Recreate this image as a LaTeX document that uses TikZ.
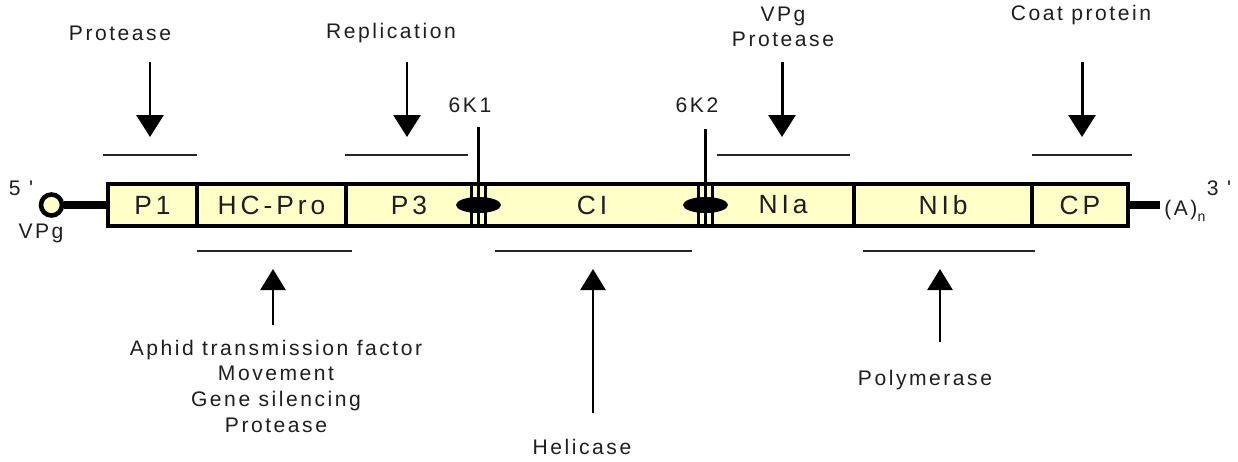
\documentclass[tikz,border=0pt]{standalone}
\usepackage{fontspec}
\setmainfont{Liberation Sans}
\newfontfamily\lblfont[LetterSpace=12]{Liberation Sans}
\newfontfamily\boxfont[LetterSpace=15]{Liberation Sans}
\usetikzlibrary{arrows.meta}
\definecolor{cream}{HTML}{FFFFC8}
\definecolor{txt}{HTML}{1E1E1E}
\begin{document}
\begin{tikzpicture}[x=0.02cm,y=-0.02cm,
  seg/.style={draw=black, line width=2pt, fill=cream, minimum height=42*0.02cm,
    inner sep=0pt, outer sep=0pt, text=txt, font=\boxfont\fontsize{15}{17}\selectfont},
  kseg/.style={draw=black, line width=1.4pt, fill=cream, minimum height=42*0.02cm,
    minimum width=13*0.02cm, inner sep=0pt, outer sep=0pt},
  lbl/.style={font=\lblfont\fontsize{12}{14.5}\selectfont, text=txt, inner sep=0pt, align=center},
  bracket/.style={line width=1.2pt, draw=black!85},
  downarr/.style={line width=1.7pt, -{Triangle[width=0.54cm,length=0.44cm]}},
  uparr/.style={line width=1.5pt, -{Triangle[width=0.5cm,length=0.42cm]}},
  thickline/.style={line width=4.2pt},
]
\useasboundingbox (0,0) rectangle (1238,461);

% genome segments
\node[seg, minimum width=89*0.02cm]  (p1)  at (152.5,205) {P1};
\node[seg, minimum width=149*0.02cm] (hc)  at (271.5,205) {HC-Pro};
\node[seg, minimum width=126*0.02cm] (p3)  at (409,205)   {P3};
\node[seg, minimum width=214*0.02cm] (ci)  at (592,205)   {CI};
\node[seg, minimum width=142*0.02cm] (nia) at (783,205)   {NIa};
\node[seg, minimum width=178*0.02cm] (nib) at (943,205)   {NIb};
\node[seg, minimum width=96*0.02cm]  (cp)  at (1080,205)  {CP};
\node[kseg] (k1) at (478.5,205) {};
\node[kseg] (k2) at (705.5,205) {};
\draw[line width=2pt] (p1.north west) -- (cp.north east) (p1.south west) -- (cp.south east);

% 6K markers
\fill (k1.center) ellipse [x radius=0.45cm, y radius=0.16cm];
\fill (k2.center) ellipse [x radius=0.45cm, y radius=0.16cm];
\coordinate (k1top) at (478.5,127);
\coordinate (k2top) at (705.5,129);
\draw[line width=1.6pt] (k1top) -- (k1.south);
\draw[line width=1.6pt] (k2top) -- (k2.south);
\draw[line width=1.4pt] (k1.north west) -- (k1.south west) (k1.north east) -- (k1.south east);
\draw[line width=1.4pt] (k2.north west) -- (k2.south west) (k2.north east) -- (k2.south east);
\node[lbl] (k1l) at (470,105) {6K1};
\node[lbl] (k2l) at (697,105) {6K2};

% ends
\node[circle, draw=black, line width=2.6pt, fill=cream, minimum size=0.42cm, inner sep=0pt] (vpg) at (51.5,205) {};
\draw[thickline] (vpg) -- (p1.west);
\node[lbl] (five) at (21,188) {5 '};
\node[lbl] (vpgl) at (41,233) {VPg};
\coordinate (tail) at (1160,205);
\draw[thickline] (cp.east) -- (tail);
\node[lbl, anchor=west] (polyA) at (1164,211) {(A)\raisebox{-0.55ex}{\fontsize{8}{9}\selectfont n}};
\node[lbl] (three) at (1219,188) {3 '};

% top brackets and arrows
\draw[bracket] (103,155) -- coordinate (tb1) (197,155);
\draw[bracket] (345,155) -- coordinate (tb2) (468,155);
\draw[bracket] (717,155) -- coordinate (tb3) (850,155);
\draw[bracket] (1032,155) -- coordinate (tb4) (1132,155);

\node[lbl] (t1) at (120,33) {Protease};
\node[lbl] (t2) at (391,33) {Replication};
\node[lbl] (t3) at (783,27) {VPg\\[-0.5pt]Protease};
\node[lbl] (t4) at (1081,15) {Coat protein};

\coordinate (a1) at (150,62);  \coordinate (e1) at (150,137);
\coordinate (a2) at (407,62);  \coordinate (e2) at (407,137);
\coordinate (a3) at (782,62);  \coordinate (e3) at (782,137);
\coordinate (a4) at (1082,62); \coordinate (e4) at (1082,137);
\draw[downarr] (a1) -- (e1);
\draw[downarr] (a2) -- (e2);
\draw[downarr] (a3) -- (e3);
\draw[downarr] (a4) -- (e4);

% bottom brackets and arrows
\draw[bracket] (197,251) -- (352,251);
\draw[bracket] (495,251) -- (692,251);
\draw[bracket] (863,251) -- (1035,251);

\coordinate (b1) at (273,325); \coordinate (f1) at (273,269);
\coordinate (b2) at (593,413); \coordinate (f2) at (593,269);
\coordinate (b3) at (940,342); \coordinate (f3) at (940,269);
\draw[uparr] (b1) -- (f1);
\draw[uparr] (b2) -- (f2);
\draw[uparr] (b3) -- (f3);

\node[lbl, font=\lblfont\fontsize{12}{14.6}\selectfont] (bl1) at (276,386) {Aphid transmission factor\\Movement\\Gene silencing\\Protease};
\node[lbl] (bl2) at (582,447) {Helicase};
\node[lbl] (bl3) at (925,380) {Polymerase};
\end{tikzpicture}
\end{document}
